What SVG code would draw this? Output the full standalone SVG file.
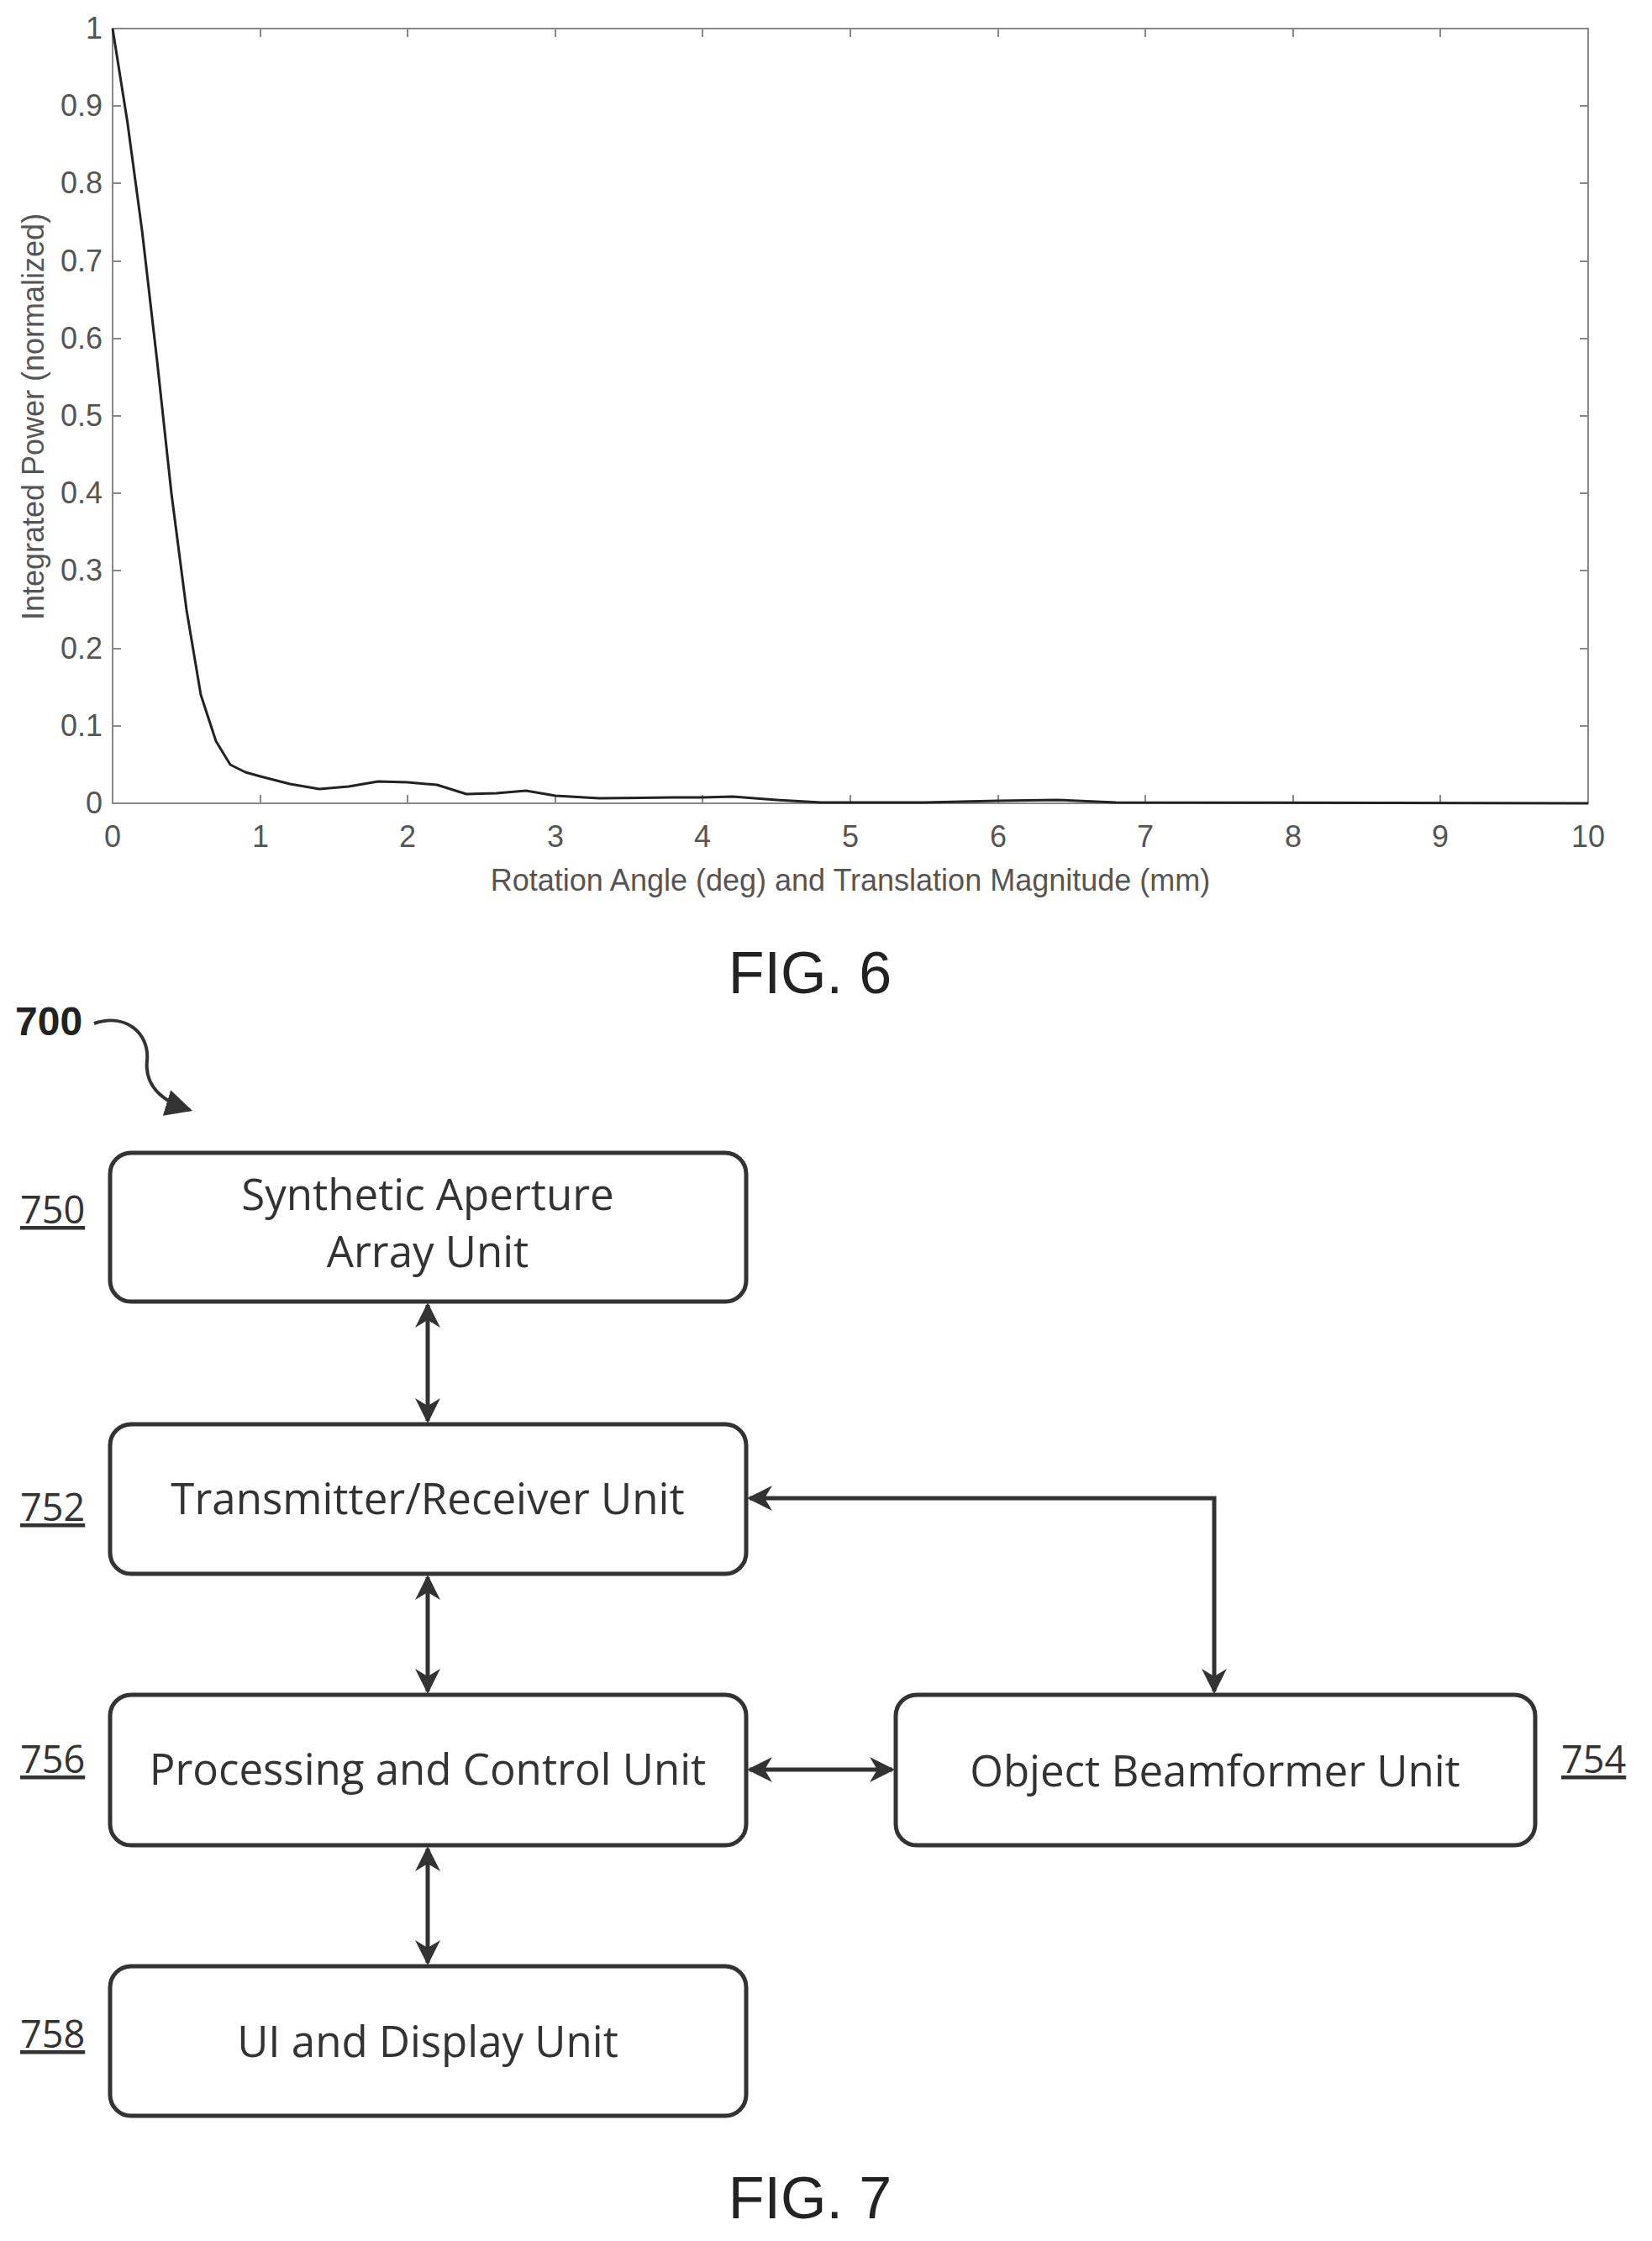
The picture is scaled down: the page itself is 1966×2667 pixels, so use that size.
<svg xmlns="http://www.w3.org/2000/svg" width="1966" height="2667" viewBox="0 0 1966 2667">
<style>
.t{font-family:"Liberation Sans",Arial,sans-serif;fill:#555;font-size:36px}
.n{fill:#fff;stroke:#333;stroke-width:5}
.b{font-family:"Open Sans","Noto Sans",sans-serif;fill:#333;font-size:51px;text-anchor:middle}
.r{font-family:"Open Sans","Noto Sans",sans-serif;fill:#333;font-size:45px;text-decoration:underline}
.c{stroke:#333;stroke-width:5;fill:none;marker-start:url(#a);marker-end:url(#a)}
.fig{font-family:"Liberation Sans",Arial,sans-serif;fill:#222;font-size:70px;text-anchor:middle}
</style>
<defs>
<marker id="a" viewBox="0 0 10 10" refX="9" refY="5" markerWidth="6" markerHeight="6" orient="auto-start-reverse" markerUnits="strokeWidth"><path d="M0,0 L10,5 L0,10 L3,5 z" fill="#333"/></marker>
<marker id="a2" viewBox="0 0 10 10" refX="9" refY="5" markerWidth="8" markerHeight="8" orient="auto" markerUnits="strokeWidth"><path d="M0,0 L10,5 L0,10 z" fill="#333"/></marker>
</defs>
<rect width="1966" height="2667" fill="#fff"/>
<g id="fig6">
<rect x="134" y="34" width="1756" height="922" fill="none" stroke="#888" stroke-width="2"/>
<g stroke="#888" stroke-width="2">
<path d="M310,956v-10M485,956v-10M661,956v-10M836,956v-10M1012,956v-10M1188,956v-10M1363,956v-10M1539,956v-10M1714,956v-10"/>
<path d="M310,34v10M485,34v10M661,34v10M836,34v10M1012,34v10M1188,34v10M1363,34v10M1539,34v10M1714,34v10"/>
<path d="M134,126h10M134,218h10M134,311h10M134,403h10M134,495h10M134,587h10M134,679h10M134,772h10M134,864h10"/>
<path d="M1890,126h-10M1890,218h-10M1890,311h-10M1890,403h-10M1890,495h-10M1890,587h-10M1890,679h-10M1890,772h-10M1890,864h-10"/>
</g>
<g class="t" text-anchor="end">
<text x="122" y="46">1</text><text x="122" y="138">0.9</text><text x="122" y="230">0.8</text><text x="122" y="323">0.7</text><text x="122" y="415">0.6</text><text x="122" y="507">0.5</text><text x="122" y="599">0.4</text><text x="122" y="691">0.3</text><text x="122" y="784">0.2</text><text x="122" y="876">0.1</text><text x="122" y="968">0</text>
</g>
<g class="t" text-anchor="middle">
<text x="134" y="1008">0</text><text x="310" y="1008">1</text><text x="485" y="1008">2</text><text x="661" y="1008">3</text><text x="836" y="1008">4</text><text x="1012" y="1008">5</text><text x="1188" y="1008">6</text><text x="1363" y="1008">7</text><text x="1539" y="1008">8</text><text x="1714" y="1008">9</text><text x="1890" y="1008">10</text>
</g>
<text class="t" x="1012" y="1060" text-anchor="middle" font-size="44">Rotation Angle (deg) and Translation Magnitude (mm)</text>
<text class="t" transform="translate(52,496) rotate(-90)" text-anchor="middle" font-size="42">Integrated Power (normalized)</text>
<polyline fill="none" stroke="#222" stroke-width="3" stroke-linejoin="round" points="134,34 151.6,145 169,274 187,430 204,587 222,726 239,827 257,882 274,910 292,919 310,924 345,933 380,939 415,936 450,930 485,931 520,934 555,945 591,944 626,941 661,947 713,950 801,949 836,949 872,948 924,952 977,955 1100,955 1188,953 1258,952 1328,955 1890,956"/>
<text class="fig" x="964" y="1182">FIG. 6</text>
</g>
<g id="label700">
<text x="18" y="1232" font-family="'Liberation Sans',Arial,sans-serif" font-weight="bold" font-size="48" fill="#222">700</text>
<path d="M112,1218 C150,1205 178,1230 175,1262 C172,1290 190,1310 226,1321" fill="none" stroke="#333" stroke-width="4" marker-end="url(#a2)"/>
</g>
<g id="n750"><rect class="n" x="131" y="1372" width="757" height="177" rx="25"/><text class="b" x="509" y="1440">Synthetic Aperture</text><text class="b" x="509" y="1508">Array Unit</text><text class="r" x="24" y="1456">750</text></g>
<g id="n752"><rect class="n" x="131" y="1695" width="757" height="178" rx="25"/><text class="b" x="509" y="1802">Transmitter/Receiver Unit</text><text class="r" x="24" y="1810">752</text></g>
<g id="n756"><rect class="n" x="131" y="2017" width="757" height="179" rx="25"/><text class="b" x="509" y="2124">Processing and Control Unit</text><text class="r" x="24" y="2110">756</text></g>
<g id="n754"><rect class="n" x="1066" y="2017" width="761" height="179" rx="25"/><text class="b" x="1446" y="2126">Object Beamformer Unit</text><text class="r" x="1858" y="2110">754</text></g>
<g id="n758"><rect class="n" x="131" y="2340" width="757" height="178" rx="25"/><text class="b" x="509" y="2448">UI and Display Unit</text><text class="r" x="24" y="2437">758</text></g>
<g id="connectors">
<path class="c" d="M509,1553 V1691"/>
<path class="c" d="M509,1877 V2013"/>
<path class="c" d="M509,2200 V2336"/>
<path class="c" d="M892,1783 H1445 V2013"/>
<path class="c" d="M892,2106 H1062"/>
</g>
<text class="fig" x="964" y="2640">FIG. 7</text>
</svg>
